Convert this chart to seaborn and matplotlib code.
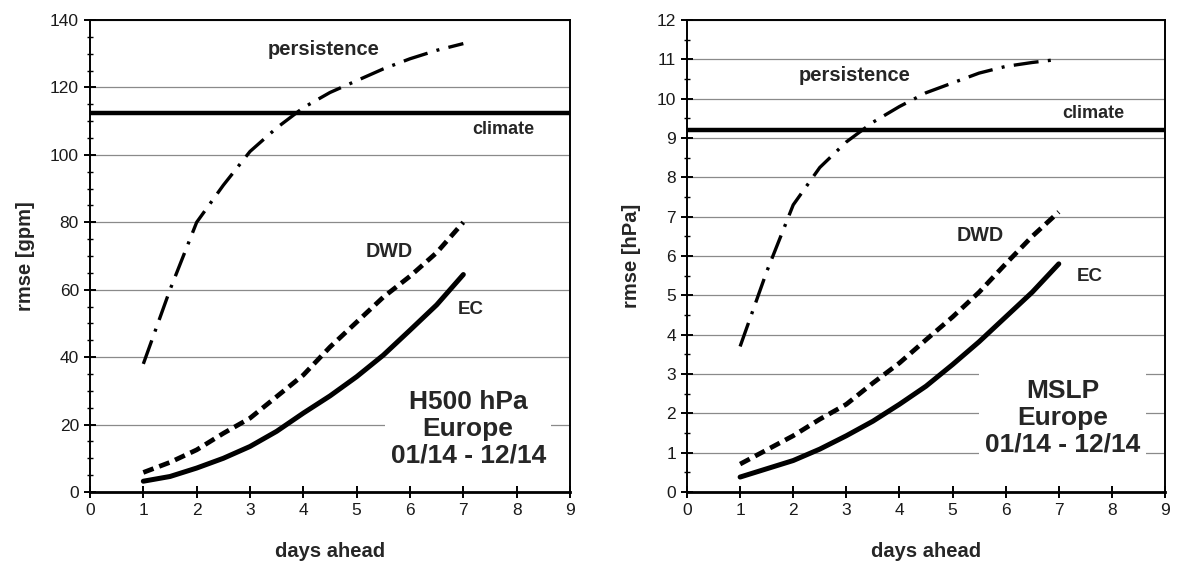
import numpy as np
import pandas as pd
import matplotlib
matplotlib.use("Agg")
import matplotlib.pyplot as plt
import seaborn as sns
from matplotlib.ticker import MultipleLocator

sns.set_theme(style="white")
plt.rcParams['font.family'] = ['Liberation Sans', 'DejaVu Sans']

# ---- data ----
days = [1, 1.5, 2, 2.5, 3, 3.5, 4, 4.5, 5, 5.5, 6, 6.5, 7]

h500_ec = [3.2, 4.6, 7.1, 10.0, 13.5, 18.0, 23.4, 28.5, 34.2, 40.6, 48.0, 55.5, 64.5]
h500_dwd = [5.8, 8.8, 12.5, 17.4, 21.9, 28.3, 34.7, 43.0, 50.4, 57.8, 64.0, 71.0, 80.0]
h500_pers = [38, 60, 80, 91, 101, 108, 114, 118.5, 122, 125.5, 128.5, 131, 133]
h500_clim = 112.3

mslp_ec = [0.38, 0.59, 0.80, 1.09, 1.43, 1.80, 2.23, 2.69, 3.24, 3.82, 4.45, 5.08, 5.8]
mslp_dwd = [0.71, 1.07, 1.43, 1.85, 2.23, 2.77, 3.28, 3.87, 4.45, 5.08, 5.8, 6.5, 7.12]
mslp_pers = [3.7, 5.6, 7.3, 8.25, 8.9, 9.4, 9.8, 10.15, 10.4, 10.65, 10.82, 10.92, 11.0]
mslp_clim = 9.2

models = ["EC", "DWD", "persistence"]

fig = plt.figure(figsize=(11.77, 5.61), dpi=100)
ax1 = fig.add_axes([90/1177, 1-492/561, 480/1177, 472/561])
ax2 = fig.add_axes([687/1177, 1-492/561, 478/1177, 472/561])

dash_map = {"EC": None, "DWD": (2.3, 1.3), "persistence": (7.5, 2.8, 0.9, 2.8)}
size_map = {"EC": 3.6, "DWD": 3.4, "persistence": 2.4}


def panel(ax, ec, dwd, pers, clim, ymax, ymaj, ymin, ylabel, labels, box_text, box_pos):
    df = pd.DataFrame({
        "day": days * 3,
        "rmse": ec + dwd + pers,
        "model": ["EC"] * len(days) + ["DWD"] * len(days) + ["persistence"] * len(days),
    })
    for m in models:
        sub = df[df["model"] == m]
        sns.lineplot(data=sub, x="day", y="rmse", ax=ax, color="black",
                     lw=size_map[m], legend=False,
                     solid_capstyle="round", dash_capstyle="butt")
        if dash_map[m] is not None:
            ax.lines[-1].set_dashes(dash_map[m])
    ax.axhline(clim, color="black", lw=3.2, zorder=3)
    ax.set_xlim(0, 9)
    ax.set_ylim(0, ymax)
    ax.xaxis.set_major_locator(MultipleLocator(1))
    ax.yaxis.set_major_locator(MultipleLocator(ymaj))
    ax.yaxis.set_minor_locator(MultipleLocator(ymin))
    ax.grid(axis="y", which="major", color="#8a8a8a", lw=0.9)
    ax.grid(axis="x", visible=False)
    ax.set_axisbelow(True)
    for s in ax.spines.values():
        s.set_color("black")
        s.set_linewidth(1.4)
    ax.spines["bottom"].set_linewidth(2.0)
    ax.tick_params(axis="both", which="major", direction="inout", length=8,
                   width=1.4, color="black", labelsize=12.5, labelcolor="#1a1a1a", pad=4,
                   left=True, bottom=True)
    ax.tick_params(axis="y", which="minor", direction="inout", length=4, width=1.0,
                   color="black", left=True)
    ax.set_xlabel("days ahead", fontsize=14.5, fontweight="bold", labelpad=17)
    ax.set_ylabel(ylabel, fontsize=14.5, fontweight="bold", labelpad=11)
    for (txt, x, y, fs, fw) in labels:
        ax.text(x, y, txt, ha="center", va="center", fontsize=fs, fontweight=fw)
    ax.text(box_pos[0], box_pos[1], box_text, ha="center", va="center",
            fontsize=19, fontweight="bold", linespacing=1.15,
            bbox=dict(facecolor="white", edgecolor="none", pad=4))


panel(ax1, h500_ec, h500_dwd, h500_pers, h500_clim, 140, 20, 5, "rmse [gpm]",
      [("persistence", 4.38, 131.3, 14.5, "bold"), ("climate", 7.75, 107.6, 13, "bold"),
       ("DWD", 5.61, 71.2, 14.2, "bold"), ("EC", 7.13, 54.0, 13.5, "bold")],
      "H500 hPa\nEurope\n01/14 - 12/14", (7.09, 18.7))

panel(ax2, mslp_ec, mslp_dwd, mslp_pers, mslp_clim, 12, 1, 0.5, "rmse [hPa]",
      [("persistence", 3.15, 10.58, 14.5, "bold"), ("climate", 7.65, 9.62, 13, "bold"),
       ("DWD", 5.52, 6.51, 14.2, "bold"), ("EC", 7.58, 5.47, 13.5, "bold")],
      "MSLP\nEurope\n01/14 - 12/14", (7.07, 1.89))

fig.savefig("out.png", dpi=100, facecolor="white")
